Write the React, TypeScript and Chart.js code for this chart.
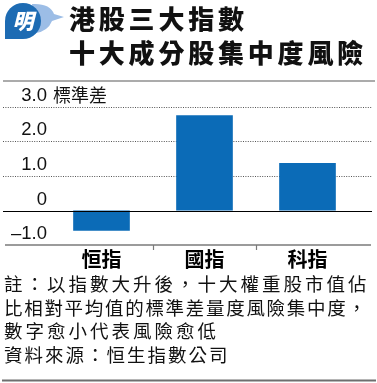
import React, { useEffect, useRef } from "react";
import { Chart, registerables } from "chart.js";

Chart.register(...registerables);

const categories = ["恒指", "國指", "科指"];
const values = [-0.58, 2.75, 1.37];
const yMin = -1;
const yMax = 3;
const yStep = 1;
const yUnit = "標準差";
const titleLines = ["港股三大指數", "十大成分股集中度風險"];
const noteLines = [
  "註：以指數大升後，十大權重股市值佔",
  "比相對平均值的標準差量度風險集中度，",
  "數字愈小代表風險愈低",
  "資料來源：恒生指數公司",
];
const noteSpacing = [3.0, 1.7, 3.0, 2.0];

const CJK = "'Noto Sans CJK TC', 'Noto Sans CJK SC', sans-serif";
const LATIN = "'Liberation Sans', Arial, sans-serif";

export default function App() {
  const ref = useRef<HTMLCanvasElement>(null);

  useEffect(() => {
    if (!ref.current) return;
    const overlay = {
      id: "overlay",
      beforeDatasetsDraw(chart: any) {
        const { ctx } = chart;
        const y = chart.scales.y;
        ctx.save();
        ctx.strokeStyle = "#555";
        ctx.lineWidth = 1;
        ctx.setLineDash([1, 1.4]);
        for (let v = yStep; v <= yMax; v += yStep) {
          const py = Math.round(y.getPixelForValue(v)) + 0.5;
          ctx.beginPath();
          ctx.moveTo(3, py);
          ctx.lineTo(372, py);
          ctx.stroke();
        }
        ctx.restore();
      },
      afterDatasetsDraw(chart: any) {
        const { ctx } = chart;
        const y = chart.scales.y;
        const x = chart.scales.x;
        ctx.save();
        const p0 = Math.round(y.getPixelForValue(0)) + 0.5;
        ctx.strokeStyle = "#000";
        ctx.lineWidth = 1;
        ctx.beginPath();
        ctx.moveTo(3, p0);
        ctx.lineTo(372, p0);
        ctx.stroke();
        const pb = Math.round(y.getPixelForValue(yMin));
        ctx.strokeStyle = "#7a7a7a";
        ctx.lineWidth = 1.6;
        ctx.beginPath();
        ctx.moveTo(5, pb);
        ctx.lineTo(371, pb);
        ctx.stroke();
        ctx.lineWidth = 1.2;
        for (let i = 1; i < categories.length; i++) {
          const px = Math.round((x.getPixelForValue(i - 1) + x.getPixelForValue(i)) / 2) + 0.5;
          ctx.beginPath();
          ctx.moveTo(px, pb);
          ctx.lineTo(px, pb + 5);
          ctx.stroke();
        }
        ctx.fillStyle = "#111";
        ctx.font = `18px ${CJK}`;
        ctx.textAlign = "left";
        ctx.textBaseline = "middle";
        ctx.fillText(yUnit, 53, y.getPixelForValue(yMax) - 11);
        ctx.strokeStyle = "#ababab";
        ctx.lineWidth = 2;
        ctx.beginPath();
        ctx.moveTo(3, 81);
        ctx.lineTo(375, 81);
        ctx.stroke();
        ctx.strokeStyle = "#6e6e6e";
        ctx.beginPath();
        ctx.moveTo(2, 380.5);
        ctx.lineTo(376, 380.5);
        ctx.stroke();
        ctx.restore();
      },
    };

    const chart = new Chart(ref.current, {
      type: "bar",
      data: {
        labels: categories,
        datasets: [
          {
            data: values,
            backgroundColor: "#0b6bb7",
            borderWidth: 0,
            barPercentage: 0.55,
            categoryPercentage: 1,
          },
        ],
      },
      options: {
        responsive: false,
        animation: false,
        layout: { padding: { left: 0, right: 18, top: 106.5, bottom: 107.8 } },
        plugins: { legend: { display: false }, tooltip: { enabled: false } },
        scales: {
          x: {
            grid: { display: false, drawTicks: false },
            border: { display: false },
            ticks: {
              color: "#000",
              padding: 2,
              maxRotation: 0,
              autoSkip: false,
              font: { family: CJK, size: 20, weight: "bold", lineHeight: 1.2 },
            },
            afterFit: (s: any) => {
              s.height = 30;
            },
          },
          y: {
            min: yMin,
            max: yMax,
            grid: { display: false, drawTicks: false },
            border: { display: false },
            ticks: {
              stepSize: yStep,
              padding: 3,
              labelOffset: -11,
              color: "#111",
              font: { family: LATIN, size: 18.5 },
              callback: (v: any) => {
                const n = Number(v);
                if (n === 0) return "0";
                return n < 0 ? "–" + Math.abs(n).toFixed(1) : n.toFixed(1);
              },
            },
            afterFit: (s: any) => {
              s.width = 50;
            },
          },
        },
      },
      plugins: [overlay],
    } as any);
    return () => chart.destroy();
  }, []);

  return (
    <div
      style={{
        position: "absolute",
        left: 0,
        top: 0,
        width: 377,
        height: 383,
        overflow: "hidden",
        background: "#fff",
      }}
    >
      <canvas
        ref={ref}
        width={377}
        height={383}
        style={{ position: "absolute", left: 0, top: 0 }}
      />
      <svg
        width={70}
        height={45}
        style={{ position: "absolute", left: 0, top: 0 }}
      >
        <path d="M32 4 Q50 3 54 14 L64 17 L52 21 Q48 31 36 33 Z" fill="#9cbde6" />
        <path d="M5 39 L5 21 A18 18 0 1 1 23 39 Z" fill="#1d6bb3" />
        <text
          x={23}
          y={29}
          fill="#fff"
          fontSize={21}
          fontWeight={900}
          fontStyle="italic"
          textAnchor="middle"
          fontFamily={CJK}
        >
          明
        </text>
      </svg>
      <div
        style={{
          position: "absolute",
          left: 69,
          top: 1,
          fontFamily: CJK,
          fontSize: 26,
          fontWeight: 900,
          letterSpacing: 3.8,
          lineHeight: "34px",
          color: "#111",
          whiteSpace: "nowrap",
        }}
      >
        {titleLines.map((t) => (
          <div key={t}>{t}</div>
        ))}
      </div>
      <div
        style={{
          position: "absolute",
          left: 4,
          top: 272,
          fontFamily: CJK,
          fontSize: 18.5,
          lineHeight: "23.5px",
          color: "#111",
          whiteSpace: "nowrap",
        }}
      >
        {noteLines.map((t, i) => (
          <div key={t} style={{ letterSpacing: noteSpacing[i] }}>
            {t}
          </div>
        ))}
      </div>
    </div>
  );
}
